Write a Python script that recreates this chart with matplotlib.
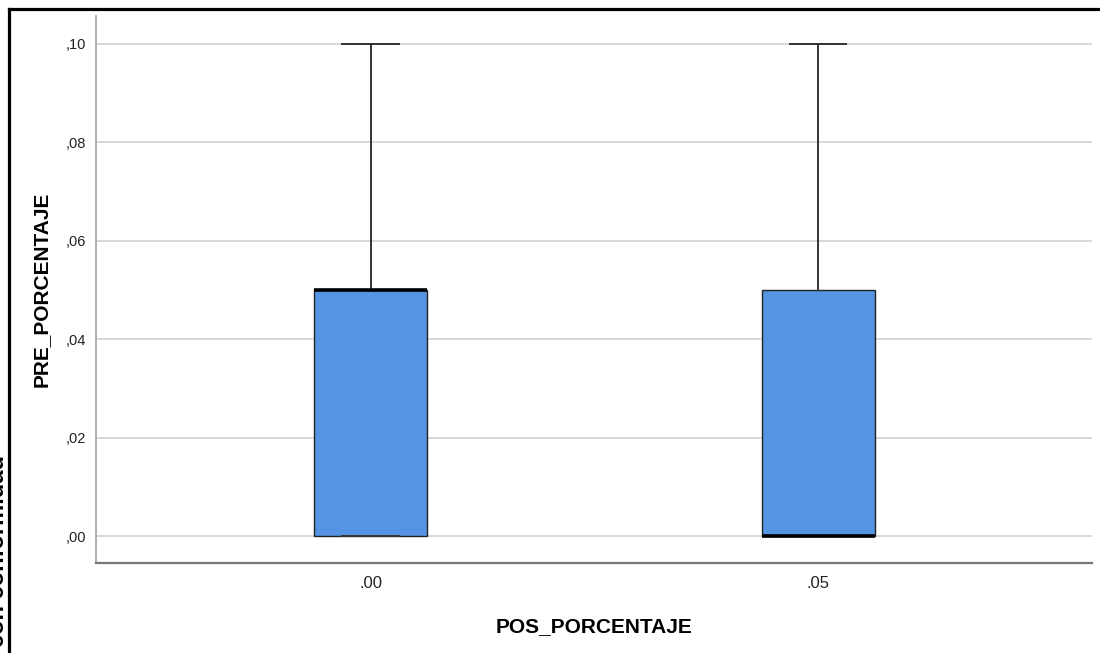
import numpy as np
import matplotlib
matplotlib.use("Agg")
import matplotlib.pyplot as plt
from matplotlib.lines import Line2D

plt.rcParams['font.family'] = ['Liberation Sans', 'DejaVu Sans']

# box statistics
categories = ['.00', '.05']
q1 = [0.0, 0.0]
medians = [0.05, 0.0]
q3 = [0.05, 0.05]
whislo = [0.0, 0.0]
whishi = [0.10, 0.10]

ytick_vals = [0.0, 0.02, 0.04, 0.06, 0.08, 0.10]
ytick_labels = [',00', ',02', ',04', ',06', ',08', ',10']

fig = plt.figure(figsize=(11, 6.53), dpi=100)
ax = fig.add_axes([0.0873, 0.1378, 0.9054, 0.8377])

stats = []
for i in range(len(categories)):
    stats.append(dict(label=categories[i], q1=q1[i], med=medians[i], q3=q3[i],
                      whislo=whislo[i], whishi=whishi[i], fliers=[]))

pos = np.arange(len(categories))
ax.bxp(stats, positions=pos, widths=0.2525, patch_artist=True, showfliers=False,
       boxprops=dict(facecolor='#5594E2', edgecolor='#222222', linewidth=1.0),
       medianprops=dict(color='black', linewidth=2.6),
       whiskerprops=dict(color='#333333', linewidth=1.4),
       capprops=dict(color='#333333', linewidth=1.4),
       zorder=3)

ax.set_xlim(-0.6134, 1.612)
ax.set_ylim(-0.00549, 0.10569)

ax.set_yticks(ytick_vals)
ax.set_yticklabels(ytick_labels, fontsize=10.5, color='#222222')
ax.set_xticks(pos)
ax.set_xticklabels(categories, fontsize=12, color='#222222')
ax.tick_params(axis='y', length=0, pad=7)
ax.tick_params(axis='x', length=0, pad=9)

ax.yaxis.grid(True, color='#d6d6d6', linewidth=1.3, zorder=0)
ax.set_axisbelow(True)

for s in ['top', 'right']:
    ax.spines[s].set_visible(False)
ax.spines['left'].set_color('#a8a8a8')
ax.spines['left'].set_linewidth(1.3)
ax.spines['bottom'].set_color('#777777')
ax.spines['bottom'].set_linewidth(1.6)

ax.set_xlabel('POS_PORCENTAJE', fontsize=15, fontweight='bold', labelpad=19)
ax.set_ylabel('PRE_PORCENTAJE', fontsize=15, fontweight='bold', labelpad=11)

# cut-off text at the left edge of the page
fig.text(0.0085, 0.303, 'con conformidad', rotation=90, ha='right', va='top',
         fontsize=17, fontweight='bold', color='black')

# black frame lines
fig.add_artist(Line2D([8.5 / 1100, 1.0], [1 - 9 / 653, 1 - 9 / 653],
                      transform=fig.transFigure, color='black', linewidth=2.3))
fig.add_artist(Line2D([8.5 / 1100, 8.5 / 1100], [0.0, 1 - 9 / 653],
                      transform=fig.transFigure, color='black', linewidth=2.3))

fig.savefig('out.png', dpi=100)
